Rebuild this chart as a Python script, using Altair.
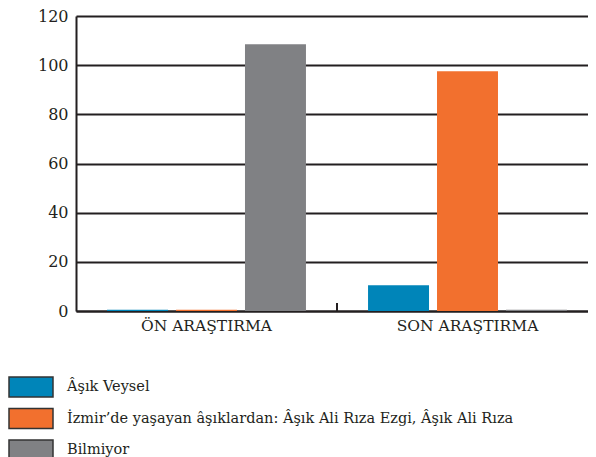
import altair as alt
import pandas as pd

groups = ["ÖN ARAŞTIRMA", "SON ARAŞTIRMA"]
series = [
    "Âşık Veysel",
    "İzmir’de yaşayan âşıklardan: Âşık Ali Rıza Ezgi, Âşık Ali Rıza",
    "Bilmiyor",
]
on_values = [0.5, 0.5, 108.5]
son_values = [10.5, 97.5, 0.5]
colors = ["#0085B9", "#F2702E", "#808184"]
y_ticks = [0, 20, 40, 60, 80, 100, 120]

rows = []
for g, vals in zip(groups, [on_values, son_values]):
    for s, v in zip(series, vals):
        rows.append({"grup": g, "seri": s, "deger": v})
df = pd.DataFrame(rows)

FONT = "DejaVu Serif"
INK = "#231F20"

bars = alt.Chart(df).mark_bar().encode(
    x=alt.X("grup:N", sort=groups, title=None,
            scale=alt.Scale(paddingInner=0, paddingOuter=0, range=[0, 522]),
            axis=alt.Axis(labelAngle=0, labelFont=FONT, labelFontSize=15.5,
                          labelColor=INK, labelPadding=7, ticks=False,
                          domainColor=INK, domainWidth=2)),
    xOffset=alt.XOffset("seri:N", sort=series,
                        scale=alt.Scale(paddingInner=0.116, paddingOuter=0.45)),
    y=alt.Y("deger:Q", title=None,
            scale=alt.Scale(domain=[0, 120], nice=False),
            axis=alt.Axis(values=y_ticks, labelFont=FONT, labelFontSize=16,
                          labelColor=INK, ticks=False, labelPadding=8,
                          grid=True, gridColor=INK, gridWidth=2,
                          domainColor=INK, domainWidth=2)),
    color=alt.Color("seri:N", sort=series, title=None,
                    scale=alt.Scale(domain=series, range=colors),
                    legend=alt.Legend(orient="none", legendX=-56, legendY=360,
                                      direction="vertical",
                                      symbolType="M-2.2,-1H2.2V1H-2.2Z",
                                      symbolSize=400, symbolStrokeColor="#333333",
                                      symbolStrokeWidth=1.5, symbolOpacity=1,
                                      labelFont=FONT, labelFontSize=14.5,
                                      labelColor=INK, labelOffset=25,
                                      labelLimit=900, rowPadding=5.5)),
)

divider = alt.Chart(pd.DataFrame({"d": [0]})).mark_rule(color=INK, strokeWidth=2).encode(
    x=alt.value(261), y=alt.value(287), y2=alt.value(295)
)

chart = (bars + divider).properties(
    width=512, height=295,
    autosize=alt.AutoSizeParams(type="none"),
    padding={"left": 68, "top": 8, "right": 0, "bottom": 150},
).configure_view(stroke=None)

chart.save("out.html", embed_options={"renderer": "svg", "actions": False})
